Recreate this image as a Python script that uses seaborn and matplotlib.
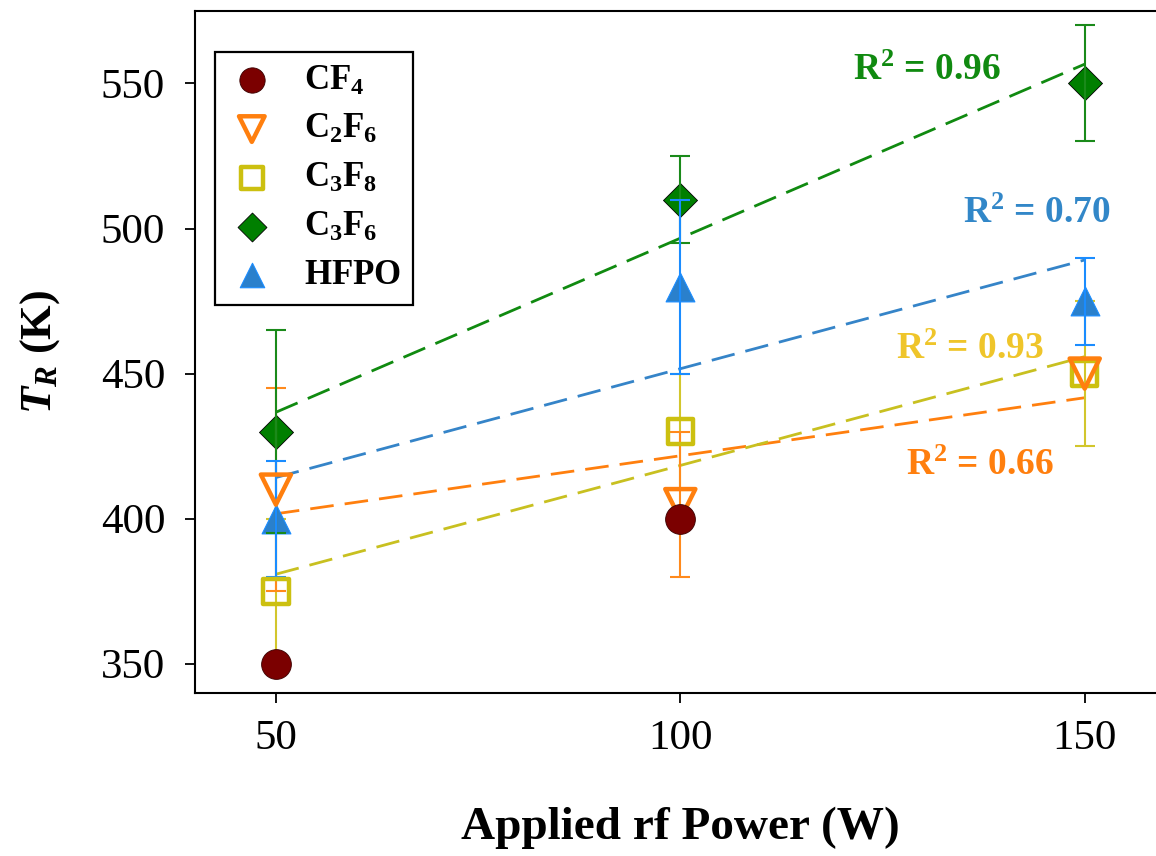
import numpy as np
import matplotlib
matplotlib.use("Agg")
import matplotlib.pyplot as plt
import seaborn as sns

# Rotational temperature vs. applied rf power for each feed gas
power = [50, 100, 150]
cf4_power = [50, 100]
cf4_tr = [350, 400]
c2f6_tr = [410, 405, 450]
c2f6_err = [35, 25, 0]
c3f8_tr = [375, 430, 450]
c3f8_err = [25, 20, 25]
c3f6_tr = [430, 510, 550]
c3f6_err = [35, 15, 20]
hfpo_tr = [400, 480, 475]
hfpo_err = [20, 30, 15]

labels = [r"$\mathbf{CF_4}$", r"$\mathbf{C_2F_6}$", r"$\mathbf{C_3F_8}$",
          r"$\mathbf{C_3F_6}$", r"$\mathbf{HFPO}$"]

sns.set_theme(style="ticks")
plt.rcParams["font.family"] = ["Liberation Serif", "DejaVu Serif"]
plt.rcParams["mathtext.fontset"] = "custom"
plt.rcParams["mathtext.rm"] = "Liberation Serif"
plt.rcParams["mathtext.it"] = "Liberation Serif:italic:bold"
plt.rcParams["mathtext.bf"] = "Liberation Serif:bold"
for key in ["text.color", "axes.labelcolor", "xtick.color", "ytick.color",
            "axes.edgecolor"]:
    plt.rcParams[key] = "black"

fig = plt.figure(figsize=(11.56, 8.56), dpi=100)
ax = fig.add_axes([0.1687, 0.1908, 0.8396, 0.7964])

# fitted trend lines (dashed) with their R^2 annotations
fits = [
    (c2f6_tr, "#FF7F0E", "#FF7F0E", (137.1, 418.2)),
    (c3f8_tr, "#C8C020", "#EFC52A", (135.8, 458.2)),
    (c3f6_tr, "#108A10", "#108A10", (130.5, 554.6)),
    (hfpo_tr, "#3584C8", "#3287C8", (144.1, 505.3)),
]
for tr, lc, tc, pos in fits:
    sns.regplot(x=power, y=tr, ax=ax, scatter=False, ci=None, truncate=True,
                color=lc, line_kws=dict(lw=2.0, ls=(0, (8.5, 4)), zorder=2))
    slope, icpt = np.polyfit(power, tr, 1)
    pred = slope * np.array(power) + icpt
    r2 = 1 - np.sum((np.array(tr) - pred) ** 2) / np.sum((np.array(tr) - np.mean(tr)) ** 2)
    ax.text(pos[0], pos[1], r"$\mathbf{R^2}$ = " + f"{r2:.2f}", color=tc,
            fontsize=27, fontweight="bold", ha="center", va="center")

# markers and error bars, layered so that the hollow symbols stay readable
sns.scatterplot(x=power, y=c3f6_tr, ax=ax, marker="D", s=300,
                color="#007F00", edgecolor="black", linewidth=0.6, zorder=2.5,
                label=labels[3])

err_sets = [
    (c2f6_tr, c2f6_err, "#FF8A1C", 3.0),
    (c3f8_tr, c3f8_err, "#D2C62C", 2.7),
    (c3f6_tr, c3f6_err, "#1A8A1A", 3.0),
    (hfpo_tr, hfpo_err, "#1A8CFF", 3.0),
]
for tr, err, c, z in err_sets:
    xs = [p for p, e in zip(power, err) if e > 0]
    ys = [t for t, e in zip(tr, err) if e > 0]
    es = [e for e in err if e > 0]
    ax.errorbar(xs, ys, yerr=es, fmt="none", ecolor=c, elinewidth=1.5,
                capsize=7, capthick=1.5, zorder=z)

sns.scatterplot(x=power, y=c3f8_tr, ax=ax, marker="s", s=330,
                facecolor="none", edgecolor="#CCC010", linewidth=3.2, zorder=3.2,
                label=labels[2])
sns.scatterplot(x=power, y=hfpo_tr, ax=ax, marker="^", s=430,
                color="#2A80CC", edgecolor="#1A8CFF", linewidth=0.8, zorder=2.8,
                label=labels[4])
sns.scatterplot(x=power, y=c2f6_tr, ax=ax, marker="v", s=470,
                facecolor="none", edgecolor="#FF7F0E", linewidth=3.2, zorder=3.4,
                label=labels[1])
sns.scatterplot(x=cf4_power, y=cf4_tr, ax=ax, marker="o", s=460,
                color="#7B0000", edgecolor="#3A0000", linewidth=0.6, zorder=4,
                label=labels[0])

ax.set_xlim(40, 160)
ax.set_ylim(340, 575)
ax.set_xticks([50, 100, 150])
ax.set_yticks([350, 400, 450, 500, 550])
ax.tick_params(axis="both", direction="out", length=7.5, width=1.3,
               labelsize=31, colors="black", pad=12)
ax.tick_params(axis="y", pad=14)
for side in ["left", "bottom", "top"]:
    ax.spines[side].set_linewidth(1.5)
    ax.spines[side].set_color("black")
ax.spines["right"].set_visible(False)

ax.set_xlabel("Applied rf Power (W)", fontsize=34, fontweight="bold", labelpad=35)
ax.set_ylabel(r"$T_R$ (K)", fontsize=32, fontweight="bold", labelpad=28)

handles, labs = ax.get_legend_handles_labels()
order = [labels.index(l) for l in labs]
pairs = sorted(zip(order, handles, labs))
leg = ax.legend([h for _, h, _ in pairs], [l for _, _, l in pairs],
                loc="upper left", bbox_to_anchor=(0.0206, 0.94), borderaxespad=0,
                fontsize=25, frameon=True, fancybox=False, edgecolor="black",
                markerscale=0.85, labelspacing=0.45, handletextpad=0.8,
                borderpad=0.36, handlelength=1.4)
leg.get_frame().set_linewidth(1.6)
leg.get_frame().set_alpha(1)

fig.savefig("out.png", dpi=100)
